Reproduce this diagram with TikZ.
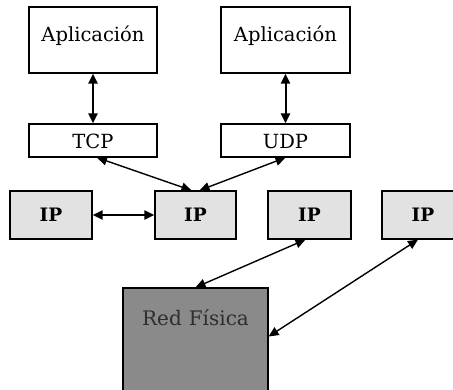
\documentclass[tikz,border=0pt]{standalone}
\usepackage{fontspec}
\setmainfont{DejaVu Serif}
\usetikzlibrary{arrows.meta}
\definecolor{ipgray}{HTML}{E2E2E2}
\definecolor{netgray}{HTML}{8A8A8A}
\definecolor{netink}{HTML}{2E2E2E}
\tikzset{
  box/.style={draw=black, line width=1.2pt, inner sep=0pt, anchor=base},
  appbox/.style={box, fill=white, minimum width=128pt, text height=34pt, text depth=32pt,
                 font=\fontsize{19.5}{22}\selectfont},
  protobox/.style={box, fill=white, minimum width=128pt, text height=24pt, text depth=9pt,
                 font=\fontsize{19.5}{22}\selectfont},
  ipbox/.style={box, fill=ipgray, minimum width=82pt, text height=30pt, text depth=18pt,
                 font=\fontsize{18.5}{22}\selectfont\bfseries},
  netbox/.style={box, fill=netgray, text=netink, minimum width=145pt, text height=37pt, text depth=72pt,
                 font=\fontsize{20}{22}\selectfont},
  link/.style={line width=1.4pt, {Triangle[length=10pt,width=9pt]}-{Triangle[length=10pt,width=9pt]}},
  thicklink/.style={link, line width=2pt},
}
\begin{document}
\begin{tikzpicture}[x=1pt,y=-1pt]
  \useasboundingbox (0,0) rectangle (453,389);
  \clip (0,0) rectangle (453,389);
  \fill[white] (0,0) rectangle (453,389);

  % application layer
  \node[appbox] (app1) at (93,41) {Aplicación};
  \node[appbox, minimum width=129pt] (app2) at (285.5,41) {Aplicación};

  % transport layer
  \node[protobox] (tcp) at (93,148) {TCP};
  \node[protobox, minimum width=129pt] (udp) at (285.5,148) {UDP};

  % internet layer
  \node[ipbox] (ip1) at (51,221) {IP};
  \node[ipbox, minimum width=81pt] (ip2) at (195.5,221) {IP};
  \node[ipbox, minimum width=83pt] (ip3) at (309.5,221) {IP};
  \node[ipbox] (ip4) at (423,221) {IP};

  % physical network
  \node[netbox] (net) at (195.5,325) {Red\hspace{7pt}Física};

  % connectors
  \draw[thicklink] (app1.south) -- (tcp.north);
  \draw[thicklink] (app2.south) -- (udp.north);
  \draw[link] ([xshift=4pt]tcp.south) -- ([xshift=-4pt]ip2.north);
  \draw[link] (udp.south) -- ([xshift=4pt]ip2.north);
  \draw[thicklink] (ip1.east) -- (ip2.west);
  \draw[link] ([xshift=-4pt]ip3.south) -- (net.north);
  \draw[link] ([xshift=-5pt]ip4.south) -- ([yshift=6pt]net.east);
\end{tikzpicture}
\end{document}
